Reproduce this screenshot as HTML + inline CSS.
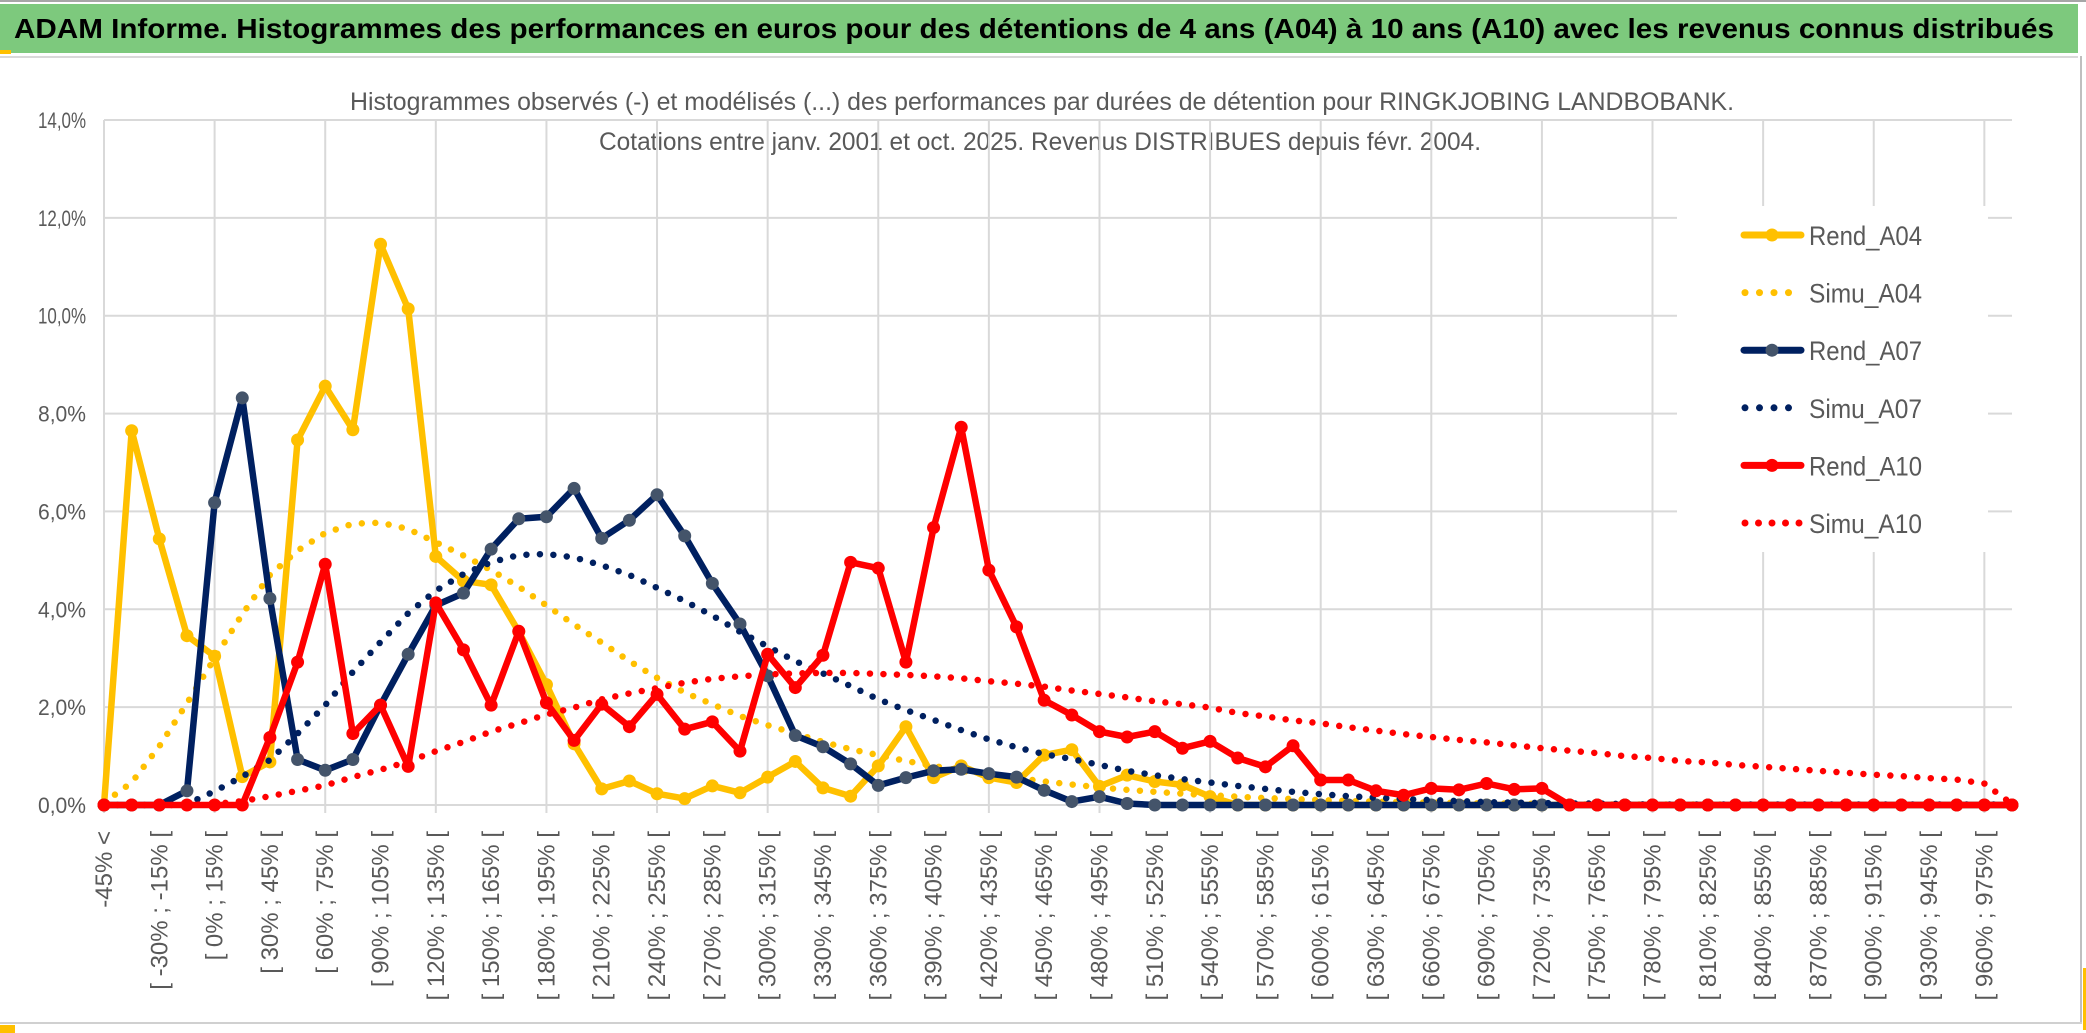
<!DOCTYPE html>
<html><head><meta charset="utf-8"><style>
html,body{margin:0;padding:0;background:#fff;}
svg{display:block;}
text{font-family:"Liberation Sans",sans-serif;}
</style></head><body>
<svg id="chart" width="2086" height="1033" viewBox="0 0 2086 1033" xmlns="http://www.w3.org/2000/svg">
<rect x="0" y="0" width="2086" height="1033" fill="#fff"/>
<rect x="0" y="0" width="2086" height="2" fill="#a6a6a6"/>
<rect x="0" y="4" width="2078" height="49" fill="#7dc97d"/>
<rect x="0" y="50" width="11" height="4" fill="#ffc000"/>
<text x="14" y="38" font-size="28" font-weight="bold" fill="#000" textLength="2040" lengthAdjust="spacingAndGlyphs">ADAM Informe. Histogrammes des performances en euros pour des détentions de 4 ans (A04) à 10 ans (A10) avec les revenus connus distribués</text>
<rect x="0" y="56" width="2078" height="2" fill="#d9d9d9"/>
<rect x="2080" y="56" width="2" height="968" fill="#bfbfbf"/>
<rect x="0" y="1022" width="2082" height="2" fill="#d0d0d0"/>
<rect x="0" y="1025" width="15" height="8" fill="#ffc000"/>
<rect x="2083" y="968" width="3" height="62" fill="#ffc000"/>
<text x="1042" y="110" font-size="25" fill="#595959" text-anchor="middle" textLength="1384" lengthAdjust="spacingAndGlyphs">Histogrammes observés (-) et modélisés (...) des performances par durées de détention pour RINGKJOBING LANDBOBANK.</text>
<text x="1040" y="150" font-size="25" fill="#595959" text-anchor="middle" textLength="882" lengthAdjust="spacingAndGlyphs">Cotations entre janv. 2001 et oct. 2025. Revenus DISTRIBUES depuis févr. 2004.</text>
<g id="grid"></g>
<g id="yaxis"></g>
<g id="xaxis"></g>
<g id="series"></g>
<g id="legend"></g>
</svg>
<script>
const yTicks = [0, 2, 4, 6, 8, 10, 12, 14];
const yTickLabels = ["0,0%", "2,0%", "4,0%", "6,0%", "8,0%", "10,0%", "12,0%", "14,0%"];
const categories = ["-45% <"];
for (let k = 1; k < 70; k++) categories.push("[ " + (-60 + 15 * k) + "% ; " + (-45 + 15 * k) + "% [");
const rendA04 = [0,7.65,5.44,3.46,3.04,0.58,0.88,7.46,8.56,7.67,11.46,10.14,5.08,4.58,4.5,3.54,2.46,1.25,0.33,0.49,0.23,0.13,0.39,0.25,0.57,0.89,0.35,0.18,0.8,1.6,0.56,0.8,0.56,0.46,1.02,1.13,0.38,0.61,0.48,0.41,0.17,0,0,0,0,0,0,0,0,0,0,0,0,0,0,0,0,0,0,0,0,0,0,0,0,0,0,0,0,0];
const simuA04 = [0.05,0.46,1.2,2.08,3.0,3.9,4.7,5.2,5.56,5.75,5.77,5.64,5.37,5.1,4.8,4.46,4.08,3.69,3.32,2.94,2.6,2.3,2.06,1.82,1.63,1.46,1.29,1.14,1.02,0.9,0.8,0.7,0.62,0.55,0.48,0.42,0.36,0.31,0.27,0.23,0.2,0.17,0.14,0.12,0.1,0.08,0.07,0.06,0.05,0.04,0.03,0.03,0.02,0.01,0.01,0.01,0.01,0.01,0.01,0.01,0,0,0,0,0,0,0,0,0,0];
const rendA07 = [0,0,0,0.29,6.18,8.32,4.22,0.93,0.71,0.93,2.04,3.08,4.08,4.33,5.23,5.85,5.89,6.47,5.45,5.82,6.34,5.5,4.53,3.7,2.64,1.42,1.19,0.84,0.4,0.56,0.7,0.73,0.64,0.57,0.3,0.07,0.17,0.03,0,0,0,0,0,0,0,0,0,0,0,0,0,0,0,0,0,0,0,0,0,0,0,0,0,0,0,0,0,0,0,0];
const simuA07 = [0,0,0,0.02,0.28,0.58,0.92,1.46,2.04,2.72,3.33,3.92,4.38,4.72,4.96,5.11,5.13,5.06,4.9,4.7,4.44,4.17,3.87,3.54,3.24,2.94,2.69,2.43,2.16,1.94,1.74,1.53,1.34,1.18,1.04,0.94,0.82,0.7,0.61,0.53,0.46,0.39,0.33,0.27,0.22,0.18,0.15,0.12,0.1,0.08,0.06,0.05,0.04,0.03,0.03,0.02,0.01,0.01,0.01,0.01,0.01,0.01,0.01,0.01,0.01,0.01,0.01,0.01,0.01,0.01];
const rendA10 = [0,0,0,0,0,0,1.38,2.92,4.92,1.46,2.04,0.79,4.13,3.17,2.04,3.55,2.09,1.32,2.06,1.6,2.26,1.55,1.7,1.1,3.08,2.4,3.06,4.96,4.84,2.92,5.67,7.72,4.8,3.64,2.14,1.84,1.5,1.39,1.5,1.16,1.3,0.96,0.78,1.21,0.51,0.51,0.29,0.2,0.34,0.31,0.44,0.32,0.34,0,0,0,0,0,0,0,0,0,0,0,0,0,0,0,0,0];
const simuA10 = [0,0,0,0,0.02,0.08,0.18,0.29,0.4,0.57,0.72,0.89,1.1,1.29,1.5,1.67,1.85,1.99,2.16,2.28,2.39,2.5,2.58,2.63,2.67,2.69,2.7,2.7,2.68,2.66,2.63,2.59,2.53,2.48,2.42,2.34,2.27,2.2,2.12,2.06,1.99,1.88,1.81,1.73,1.67,1.59,1.52,1.45,1.39,1.33,1.28,1.22,1.16,1.11,1.06,1.0,0.96,0.9,0.87,0.82,0.78,0.74,0.7,0.66,0.62,0.59,0.55,0.52,0.44,0.02];
const seriesNames = ["Rend_A04", "Simu_A04", "Rend_A07", "Simu_A07", "Rend_A10", "Simu_A10"];

const NS = "http://www.w3.org/2000/svg";
const X0 = 104, X1 = 2012, Y0 = 805, Y1 = 120, YMAX = 14;
const LEG = {x0: 1677, x1: 1988, y0: 206, y1: 552};
function xPos(i) { return X0 + (X1 - X0) * i / (categories.length - 1); }
function yPos(v) { return Y0 - (Y0 - Y1) * v / YMAX; }
function mk(tag, attrs, parent) {
  const e = document.createElementNS(NS, tag);
  for (const k in attrs) e.setAttribute(k, attrs[k]);
  parent.appendChild(e);
  return e;
}
const grid = document.getElementById('grid');
const yaxis = document.getElementById('yaxis');
const xaxis = document.getElementById('xaxis');
const seriesG = document.getElementById('series');
const legend = document.getElementById('legend');

yTicks.forEach((t, k) => {
  const y = yPos(t);
  if (t > 0 && y >= LEG.y0 && y <= LEG.y1) {
    const a = mk('line', {x1: X0, x2: LEG.x0, y1: y, y2: y, stroke: '#d9d9d9', 'stroke-width': 2}, grid);
    
    
    const b = mk('line', {x1: LEG.x1, x2: X1, y1: y, y2: y, stroke: '#d9d9d9', 'stroke-width': 2}, grid);
    
    
  } else {
    const a = mk('line', {x1: X0, x2: X1, y1: y, y2: y, stroke: '#d9d9d9', 'stroke-width': 2}, grid);
    
    
  }
  const lbl = mk('text', {x: 86, y: y + 8, 'font-size': 22, fill: '#595959', 'text-anchor': 'end', textLength: yTickLabels[k].length > 5 ? 58 : 48, lengthAdjust: 'spacingAndGlyphs'}, yaxis);
  lbl.textContent = yTickLabels[k];
  
  
});

for (let i = 0; i < categories.length; i += 4) {
  const x = xPos(i);
  if (x >= LEG.x0 && x <= LEG.x1) {
    const a = mk('line', {x1: x, x2: x, y1: Y1, y2: LEG.y0, stroke: '#d9d9d9', 'stroke-width': 2}, grid);
    
    
    const b = mk('line', {x1: x, x2: x, y1: LEG.y1, y2: Y0 + 8, stroke: '#d9d9d9', 'stroke-width': 2}, grid);
    
    
  } else {
    const a = mk('line', {x1: x, x2: x, y1: Y1, y2: Y0 + 8, stroke: '#d9d9d9', 'stroke-width': 2}, grid);
    
    
  }
}

categories.forEach((c, i) => {
  if (i % 2 !== 0) return;
  const x = xPos(i) + 8, y = 831;
  const t = mk('text', {x: x, y: y, 'font-size': 24, fill: '#595959', 'text-anchor': 'end', transform: 'rotate(-90 ' + x + ' ' + y + ')'}, xaxis);
  t.textContent = c;
  
  
});

function pathD(vals) {
  return vals.map((v, i) => (i ? 'L' : 'M') + xPos(i).toFixed(1) + ' ' + yPos(v).toFixed(1)).join(' ');
}
function solidSeries(vals, color, marker, name) {
  const g = mk('g', {}, seriesG);
  
  
  const p = mk('path', {d: pathD(vals), fill: 'none', stroke: color, 'stroke-width': 6.5, 'stroke-linejoin': 'round', 'stroke-linecap': 'round'}, g);
  
  
  vals.forEach((v, i) => {
    const c = mk('circle', {cx: xPos(i), cy: yPos(v), r: 6.5, fill: marker}, g);
    
    
  });
}
function dottedSeries(vals, color, name) {
  const p = mk('path', {d: pathD(vals), fill: 'none', stroke: color, 'stroke-width': 6.5, 'stroke-linecap': 'round', 'stroke-linejoin': 'round', 'stroke-dasharray': '0 13.5'}, seriesG);
  
  
}
solidSeries(rendA04, '#ffc000', '#ffc000', 'rend-a04');
dottedSeries(simuA04, '#ffc000', 'simu-a04');
solidSeries(rendA07, '#002060', '#44546a', 'rend-a07');
dottedSeries(simuA07, '#002060', 'simu-a07');
solidSeries(rendA10, '#ff0000', '#ff0000', 'rend-a10');
dottedSeries(simuA10, '#ff0000', 'simu-a10');

const legColors = ['#ffc000', '#ffc000', '#002060', '#002060', '#ff0000', '#ff0000'];
const legMarkers = ['#ffc000', null, '#44546a', null, '#ff0000', null];
const bg = mk('rect', {x: LEG.x0 + 40, y: LEG.y0 + 2, width: 260, height: LEG.y1 - LEG.y0 - 4, fill: '#fff'}, legend);


seriesNames.forEach((n, k) => {
  const y = 235 + k * 57.6;
  const g = mk('g', {}, legend);
  
  
  if (legMarkers[k]) {
    mk('line', {x1: 1744, x2: 1801, y1: y, y2: y, stroke: legColors[k], 'stroke-width': 7, 'stroke-linecap': 'round'}, g);
    mk('circle', {cx: 1772, cy: y, r: 6.5, fill: legMarkers[k]}, g);
  } else {
    const cnt = k === 5 ? 5 : 4;
    const step = k === 5 ? 13.5 : 14.5;
    for (let d = 0; d < cnt; d++) mk('circle', {cx: 1745 + d * step, cy: y, r: 3.5, fill: legColors[k]}, g);
  }
  const t = mk('text', {x: 1809, y: y + 10, 'font-size': 27, fill: '#595959', textLength: 113, lengthAdjust: 'spacingAndGlyphs'}, g);
  t.textContent = n;
  
  
});
</script>
</body></html>
